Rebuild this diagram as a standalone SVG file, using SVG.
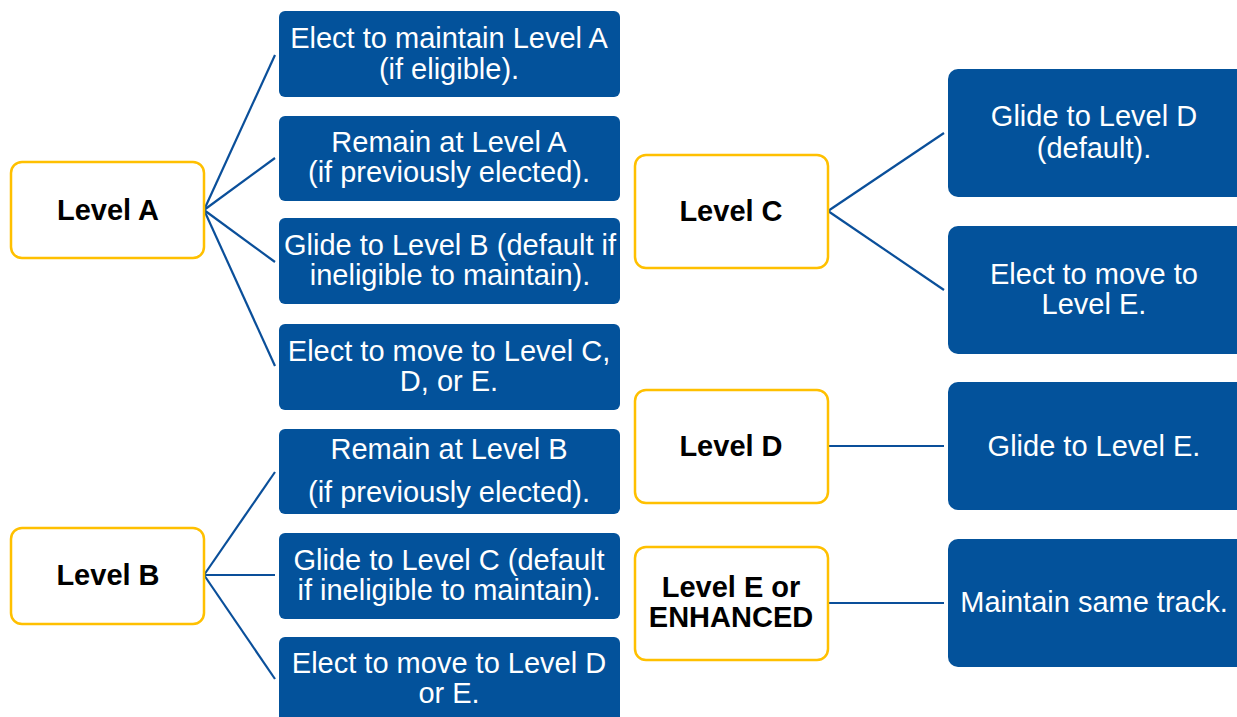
<svg xmlns="http://www.w3.org/2000/svg" width="1237" height="717" viewBox="0 0 1237 717">
<style>
.lvl{fill:#fff;stroke:#FFC000;stroke-width:2.5}
.opt{fill:#03529B}
.lt{font-family:"Liberation Sans",Arial,sans-serif;font-weight:bold;font-size:29px;fill:#000;text-anchor:middle}
.ot{font-family:"Liberation Sans",Arial,sans-serif;font-size:29px;fill:#fff;text-anchor:middle}
.con line{stroke:#0A4F9A;stroke-width:2.2}
</style>
<rect width="1237" height="717" fill="#fff"/>
<g class="con" id="connectors">
<line x1="204" y1="210" x2="275" y2="55"/>
<line x1="204" y1="210" x2="275" y2="158"/>
<line x1="204" y1="210" x2="275" y2="262"/>
<line x1="204" y1="210" x2="275" y2="366"/>
<line x1="204" y1="575" x2="275" y2="472"/>
<line x1="204" y1="575" x2="275" y2="575"/>
<line x1="204" y1="575" x2="275" y2="679"/>
<line x1="828" y1="211" x2="944" y2="133"/>
<line x1="828" y1="211" x2="944" y2="290"/>
<line x1="828" y1="446" x2="944" y2="446"/>
<line x1="828" y1="603" x2="944" y2="603"/>
</g>
<g id="levelA"><rect class="lvl" x="11" y="162" width="193" height="96" rx="11"/><text class="lt" x="108" y="220">Level A</text></g>
<g id="levelB"><rect class="lvl" x="11" y="528" width="193" height="96" rx="11"/><text class="lt" x="108" y="585">Level B</text></g>
<g id="levelC"><rect class="lvl" x="635" y="155" width="193" height="113" rx="11"/><text class="lt" x="731" y="221">Level C</text></g>
<g id="levelD"><rect class="lvl" x="635" y="390" width="193" height="113" rx="11"/><text class="lt" x="731" y="456">Level D</text></g>
<g id="levelE"><rect class="lvl" x="635" y="547" width="193" height="113" rx="11"/><text class="lt" x="731" y="597">Level E or</text><text class="lt" x="731" y="627">ENHANCED</text></g>
<g id="a1"><rect class="opt" x="279" y="11" width="341" height="86" rx="6"/><text class="ot" x="449" y="48">Elect to maintain Level A</text><text class="ot" x="449" y="79">(if eligible).</text></g>
<g id="a2"><rect class="opt" x="279" y="116" width="341" height="85" rx="6"/><text class="ot" x="449" y="152">Remain at Level A</text><text class="ot" x="449" y="182">(if previously elected).</text></g>
<g id="a3"><rect class="opt" x="279" y="218" width="341" height="86" rx="6"/><text class="ot" x="450" y="255">Glide to Level B (default if</text><text class="ot" x="450" y="285">ineligible to maintain).</text></g>
<g id="a4"><rect class="opt" x="279" y="324" width="341" height="86" rx="6"/><text class="ot" x="449" y="361">Elect to move to Level C,</text><text class="ot" x="449" y="391">D, or E.</text></g>
<g id="b1"><rect class="opt" x="279" y="429" width="341" height="85" rx="6"/><text class="ot" x="449" y="459">Remain at Level B</text><text class="ot" x="449" y="502">(if previously elected).</text></g>
<g id="b2"><rect class="opt" x="279" y="533" width="341" height="86" rx="6"/><text class="ot" x="449" y="570">Glide to Level C (default</text><text class="ot" x="449" y="600">if ineligible to maintain).</text></g>
<g id="b3"><rect class="opt" x="279" y="637" width="341" height="90" rx="6"/><text class="ot" x="449" y="673">Elect to move to Level D</text><text class="ot" x="449" y="703">or E.</text></g>
<g id="c1"><rect class="opt" x="948" y="69" width="300" height="128" rx="10"/><text class="ot" x="1094" y="126">Glide to Level D</text><text class="ot" x="1094" y="158">(default).</text></g>
<g id="c2"><rect class="opt" x="948" y="226" width="300" height="128" rx="10"/><text class="ot" x="1094" y="284">Elect to move to</text><text class="ot" x="1094" y="314">Level E.</text></g>
<g id="d1"><rect class="opt" x="948" y="382" width="300" height="128" rx="10"/><text class="ot" x="1094" y="456">Glide to Level E.</text></g>
<g id="e1"><rect class="opt" x="948" y="539" width="300" height="128" rx="10"/><text class="ot" x="1094" y="612">Maintain same track.</text></g>
</svg>
